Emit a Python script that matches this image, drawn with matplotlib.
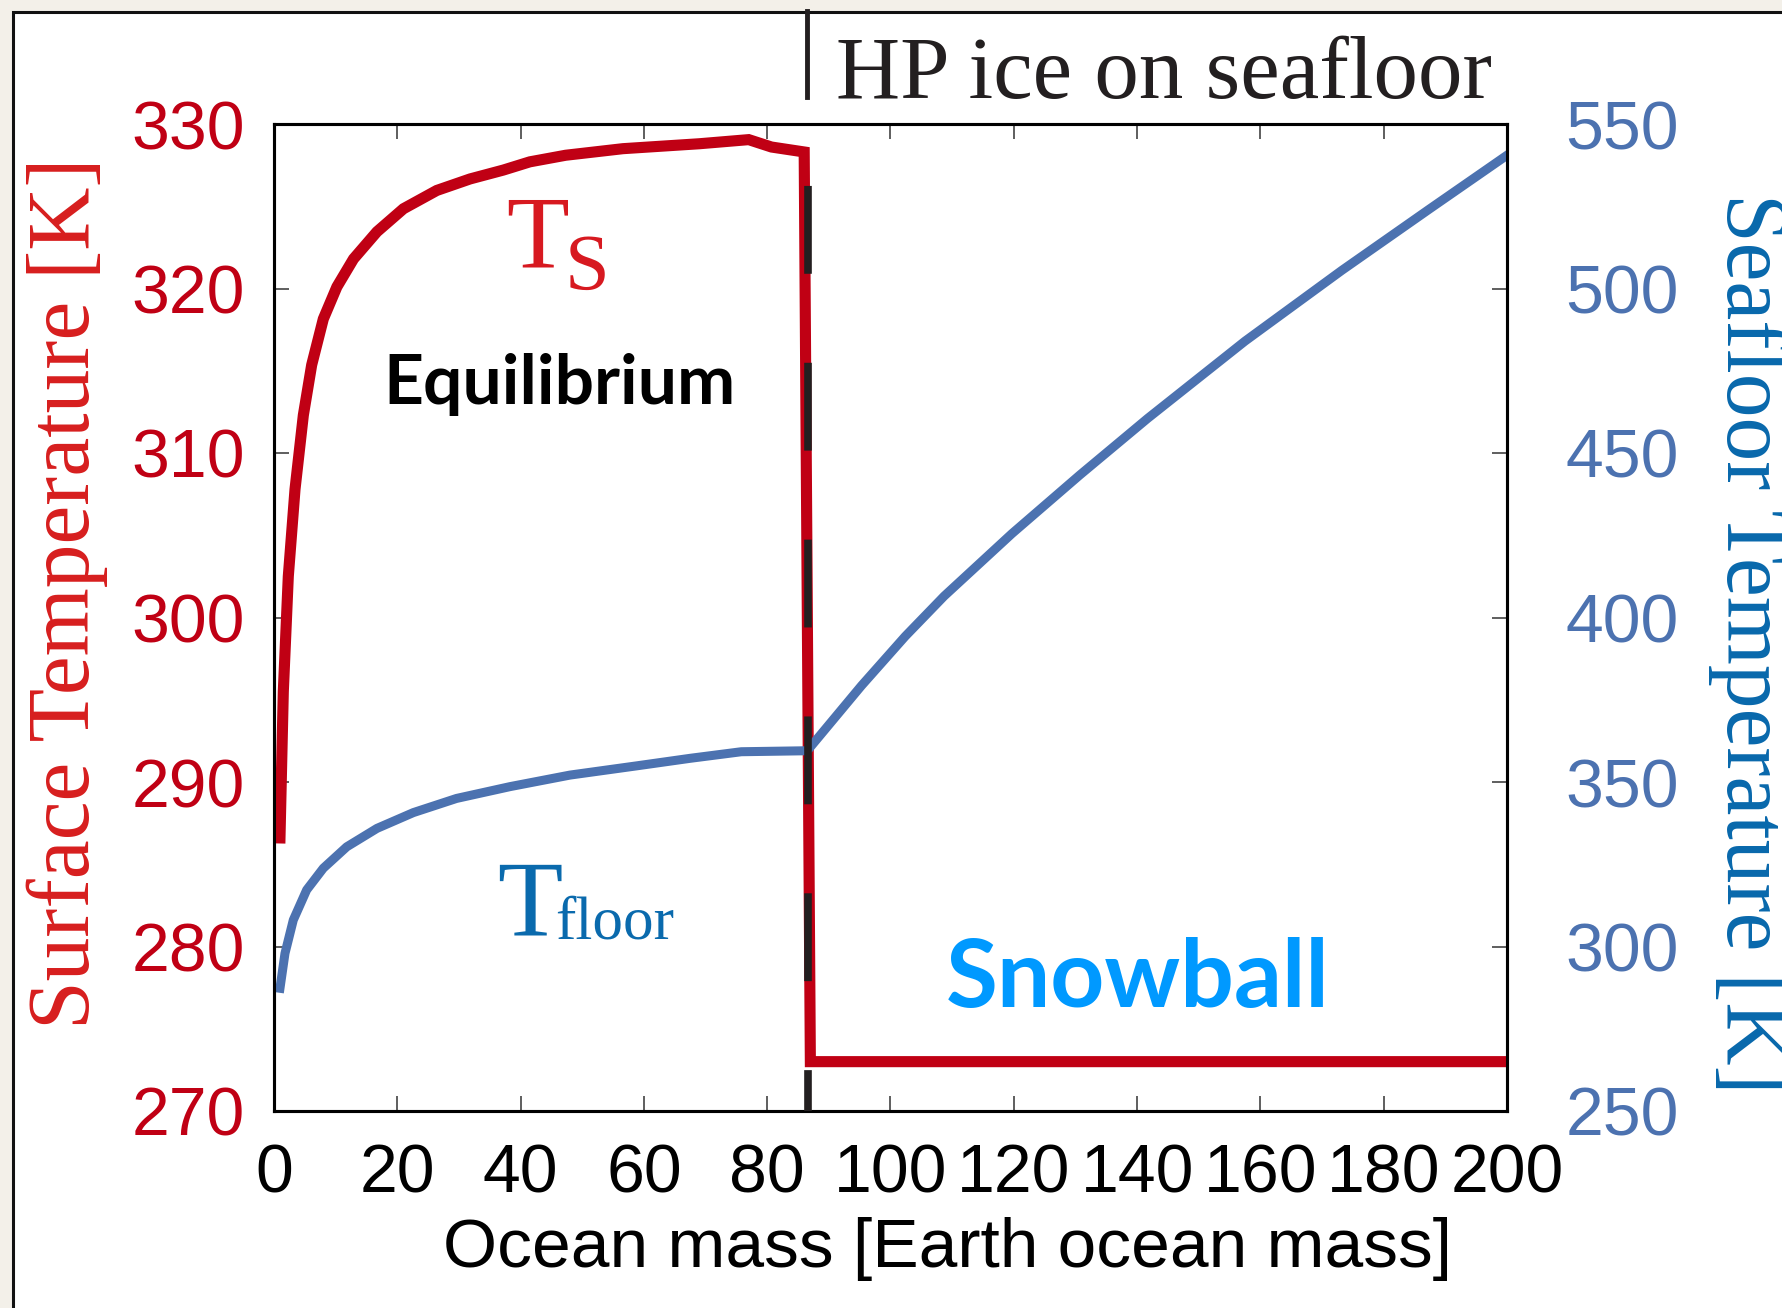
import matplotlib
matplotlib.use('Agg')
import matplotlib.pyplot as plt
from matplotlib.patches import Rectangle
from matplotlib.lines import Line2D


# surface temperature (left axis)
ts_mass = [0.97, 1.51, 2.32, 3.41, 4.76, 6.11, 8.0, 10.2, 12.9, 16.7, 21.0, 26.4,
           31.8, 37.2, 41.5, 47.3, 56.6, 69.0, 77.0, 80.7, 86.0, 87.0, 200.0]
ts_temp = [286.6, 295.5, 302.5, 307.8, 312.3, 315.35, 318.15, 320.1, 321.8, 323.45,
           324.85, 325.96, 326.66, 327.2, 327.7, 328.1, 328.5, 328.8, 329.05, 328.6,
           328.3, 273.0, 273.0]

# seafloor temperature (right axis)
tf_mass = [0.97, 1.78, 3.13, 5.3, 8.0, 11.8, 16.7, 22.6, 29.6, 38.3, 48.0, 58.8,
           67.5, 75.8, 86.5, 95.3, 102.4, 108.7, 119.7, 130.7, 141.7, 157.5, 173.2,
           187.3, 200.0]
tf_temp = [287.3, 297.9, 308.05, 317.2, 323.8, 330.3, 335.9, 340.7, 345.0, 348.6,
           352.1, 354.9, 357.2, 359.2, 359.5, 379.3, 394.3, 406.5, 425.5, 443.3,
           460.5, 484.0, 505.5, 524.0, 540.5]

hp_ice_mass = 86.55

x_ticks = [0, 20, 40, 60, 80, 100, 120, 140, 160, 180, 200]
left_ticks = [270, 280, 290, 300, 310, 320, 330]
right_ticks = [250, 300, 350, 400, 450, 500, 550]

red = '#c00014'
blue = '#4c72b0'
W, H = 1783, 1308

fig = plt.figure(figsize=(W / 100, H / 100), dpi=100, facecolor='#f3f0e9')

# white panel with black frame
panel = Rectangle((13.5 / W, -0.05), 1.1, 1 - 11.5 / H + 0.05, transform=fig.transFigure,
                  facecolor='white', edgecolor='#111111', lw=2.2, zorder=0)
fig.add_artist(panel)

ax = fig.add_axes([274 / W, 1 - 1111 / H, 1233 / W, 987 / H], zorder=1)
ax2 = ax.twinx()

ax.plot(ts_mass, ts_temp, color=red, lw=8.0, solid_joinstyle='miter', zorder=3)
ax2.plot(tf_mass, tf_temp, color=blue, lw=6.5, zorder=2)

# HP ice boundary
ax2.plot([hp_ice_mass, hp_ice_mass], [0, 1], transform=ax2.get_xaxis_transform(),
         color='#231f20', lw=5.5, linestyle=(6.15, (11.5, 11.65)), zorder=5)

ax.set_xlim(0, 200)
ax.set_ylim(270, 330)
ax2.set_ylim(250, 550)
ax.set_xticks(x_ticks)
ax.set_yticks(left_ticks)
ax2.set_yticks(right_ticks)

tick_font = dict(family='Liberation Sans', size=49)
ax.set_xticklabels([str(v) for v in x_ticks], **tick_font)
ax.set_yticklabels([str(v) for v in left_ticks], color=red, **tick_font)
ax2.set_yticklabels([str(v) for v in right_ticks], color=blue, **tick_font)

ax.tick_params(axis='x', direction='in', top=True, length=10.8, width=1.1,
               color='#333333', pad=23)
ax.tick_params(axis='y', direction='in', length=10.8, width=1.1, color='#333333', pad=21)
ax2.tick_params(axis='y', direction='in', length=10.8, width=1.1, color='#333333', pad=42)
for a in (ax, ax2):
    for s in a.spines.values():
        s.set_linewidth(2.2)
        s.set_color('black')

# axis labels
fig.text(948 / W, 1 - 1217 / H, 'Ocean mass [Earth ocean mass]', ha='center', va='top',
         family='Liberation Sans', size=50)
fig.text(67 / W, 1 - 593 / H, 'Surface Temperature [K]', rotation=90, ha='center',
         va='center', family='Liberation Serif', size=63, color='#d71e1e')
fig.text(1749 / W, 1 - 643 / H, 'Seafloor Temperature [K]', rotation=270, ha='center',
         va='center', family='Liberation Serif', size=63, color='#0868ac')

# annotations inside the axes
ax2.text(37.6, 321.3, 'T', transform=ax.transData, family='Liberation Serif', size=74,
         color='#d71920', va='baseline', ha='left')
ax2.text(47.1, 319.9, 'S', transform=ax.transData, family='Liberation Serif', size=58,
         color='#d71920', va='baseline', ha='left')
ax2.text(36.2, 280.7, 'T', transform=ax.transData, family='Liberation Serif', size=77,
         color='#0a6aad', va='baseline', ha='left')
ax2.text(45.6, 280.5, 'floor', transform=ax.transData, family='Liberation Serif', size=44,
         color='#0a6aad', va='baseline', ha='left')
ax2.text(46.3, 313.0, 'Equilibrium', transform=ax.transData, family='Lato', weight='bold',
         size=50, color='black', va='baseline', ha='center')
ax2.text(109.0, 276.3, 'Snowball', transform=ax.transData, family='Lato', weight='bold',
         size=68, color='#0099ff', va='baseline', ha='left')

# label above the plot with its solid marker line
fig.add_artist(Line2D([807 / W, 807 / W], [1 - 11 / H, 1 - 97 / H], transform=fig.transFigure,
                      color='#231f20', lw=3.5, zorder=2))
fig.text(836 / W, 1 - 98 / H, 'HP ice on seafloor', ha='left', va='baseline',
         family='Liberation Serif', size=64, color='#231f20', zorder=2)

fig.savefig('out.png', dpi=100, facecolor=fig.get_facecolor())
